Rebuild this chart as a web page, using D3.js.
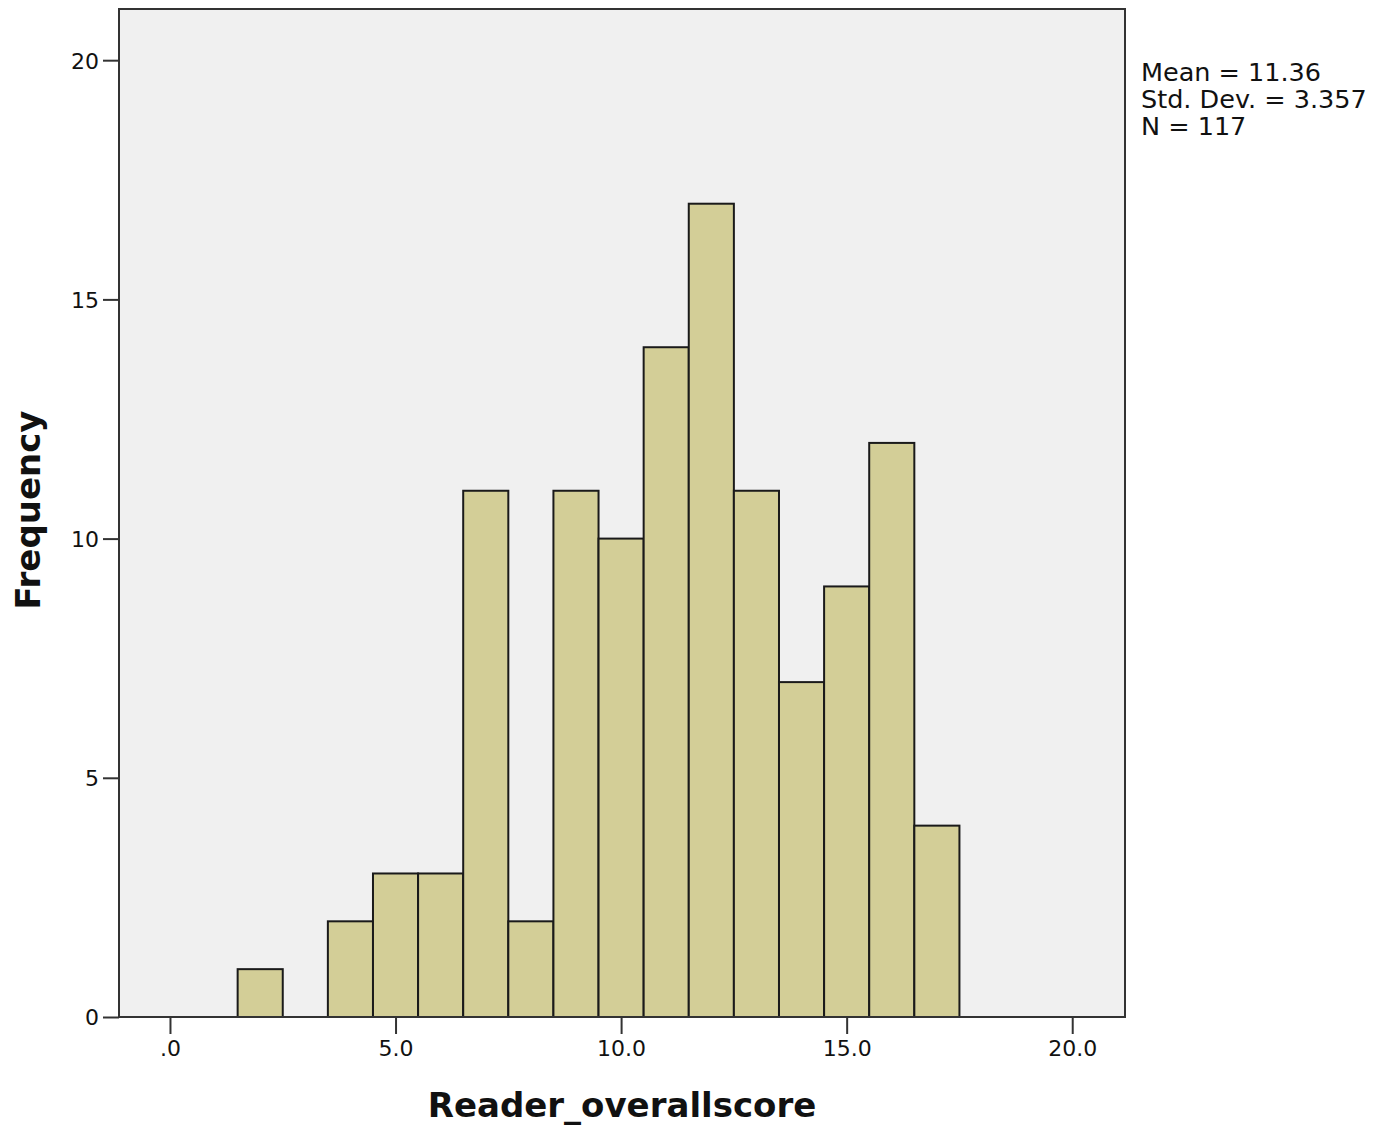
<!DOCTYPE html>
<html>
<head>
<meta charset="utf-8">
<script src="https://cdn.jsdelivr.net/npm/d3@7"></script>
<style>
  body { margin: 0; background: #fff; }
  text { font-family: "DejaVu Sans", sans-serif; }
</style>
</head>
<body>
<div class="chart-container"></div>
<script>
// bin centres (width 1) and their counts
const binCentres = [2, 3, 4, 5, 6, 7, 8, 9, 10, 11, 12, 13, 14, 15, 16, 17];
const counts     = [1, 0, 2, 3, 3, 11, 2, 11, 10, 14, 17, 11, 7, 9, 12, 4];
const xTicks = [0, 5, 10, 15, 20];
const xTickLabels = [".0", "5.0", "10.0", "15.0", "20.0"];
const yTicks = [0, 5, 10, 15, 20];
const statLines = ["Mean = 11.36", "Std. Dev. = 3.357", "N = 117"];

const margin = {top: 9, right: 260, bottom: 112, left: 119},
  width = 1385 - margin.left - margin.right,
  height = 1129 - margin.top - margin.bottom;

const x = d3.scaleLinear().domain([-1.13, 21.17]).range([0, width]);
const y = d3.scaleLinear().domain([0, 21.07]).range([height, 0]);

const svg = d3.select(".chart-container").append("svg")
    .attr("width", 1385)
    .attr("height", 1129)
  .append("g")
    .attr("transform", "translate(" + margin.left + "," + margin.top + ")");

svg.append("rect")
  .attr("width", width)
  .attr("height", height)
  .attr("fill", "#f0f0f0");

const bins = binCentres.map((c, i) => ({c: c, n: counts[i]})).filter(d => d.n > 0);

svg.selectAll(".bar")
    .data(bins)
  .enter().append("rect")
    .attr("class", "bar")
    .attr("x", d => x(d.c - 0.5))
    .attr("y", d => y(d.n))
    .attr("width", d => x(d.c + 0.5) - x(d.c - 0.5))
    .attr("height", d => y(0) - y(d.n))
    .attr("fill", "#d3ce97")
    .attr("stroke", "#1a1a1a")
    .attr("stroke-width", 2);

// frame
svg.append("rect")
  .attr("width", width)
  .attr("height", height)
  .attr("fill", "none")
  .attr("stroke", "#333")
  .attr("stroke-width", 2);

const xAxis = svg.append("g")
    .attr("transform", "translate(0," + height + ")")
    .call(d3.axisBottom(x).tickValues(xTicks).tickSize(17).tickPadding(6)
      .tickFormat((d, i) => xTickLabels[i]));

const yAxis = svg.append("g")
    .call(d3.axisLeft(y).tickValues(yTicks).tickSize(16).tickPadding(4));

[xAxis, yAxis].forEach(a => {
  a.select(".domain").remove();
  a.selectAll("line").attr("stroke", "#333").attr("stroke-width", 2);
  a.selectAll("text")
    .attr("font-family", "DejaVu Sans, sans-serif")
    .attr("font-size", 22)
    .attr("fill", "#111");
});
yAxis.selectAll("text").attr("dy", "0.36em");

svg.append("text")
  .attr("x", width / 2)
  .attr("y", height + 100)
  .attr("text-anchor", "middle")
  .attr("font-size", 34)
  .attr("font-weight", "bold")
  .attr("fill", "#111")
  .text("Reader_overallscore");

svg.append("text")
  .attr("transform", "rotate(-90)")
  .attr("x", -(510 - margin.top))
  .attr("y", 40 - margin.left)
  .attr("text-anchor", "middle")
  .attr("font-size", 34)
  .attr("font-weight", "bold")
  .attr("fill", "#111")
  .text("Frequency");

svg.selectAll(".stat")
    .data(statLines)
  .enter().append("text")
    .attr("class", "stat")
    .attr("x", width + 16)
    .attr("y", (d, i) => 72 + i * 27)
    .attr("font-size", 25.5)
    .attr("fill", "#111")
    .text(d => d);
</script>
</body>
</html>
